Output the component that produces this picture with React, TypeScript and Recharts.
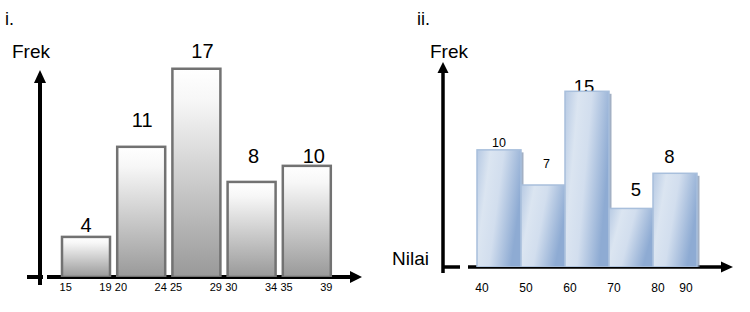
import React from 'react';
import { BarChart, Bar, XAxis, YAxis, usePlotArea } from 'recharts';

// ---------- data: chart i ----------
const leftBins = ['15-19', '20-24', '25-29', '30-34', '35-39'];
const leftLower = ['15', '20', '25', '30', '35'];
const leftUpper = ['19', '24', '29', '34', '39'];
const leftFreq = [4, 11, 17, 8, 10];
// bar heights as drawn in the picture (in frequency units)
const leftDrawnHeight = [3.37, 10.94, 17.5, 7.99, 9.34];

// ---------- data: chart ii ----------
const rightBins = ['40-50', '50-60', '60-70', '70-80', '80-90'];
const rightEdges = ['40', '50', '60', '70', '80', '90'];
const rightFreq = [10, 7, 15, 5, 8];

// ---------- styling (label offsets / sizes) ----------
const FONT = '"Liberation Sans", Arial, sans-serif';
const leftLabelStyle = [
  { dx: 0, dy: -5, size: 20 },
  { dx: 1, dy: -20, size: 20 },
  { dx: 6, dy: -11, size: 20 },
  { dx: 2, dy: -19, size: 20 },
  { dx: 7, dy: -3, size: 20 },
];
const rightLabelStyle = [
  { dx: 0, dy: -2.5, size: 12.5 },
  { dx: 3.5, dy: -17.5, size: 12.5 },
  { dx: -3, dy: 2, size: 18.5 },
  { dx: 5, dy: -12, size: 18.5 },
  { dx: -5.5, dy: -10, size: 18.5 },
];

const leftData = leftBins.map((bin, i) => ({
  bin,
  lower: leftLower[i],
  upper: leftUpper[i],
  freq: leftFreq[i],
  h: leftDrawnHeight[i],
}));

const rightData = rightBins.map((bin, i) => ({
  bin,
  lower: rightEdges[i],
  upper: rightEdges[i + 1],
  freq: rightFreq[i],
}));

const LEFT_BAR = 48;
const RIGHT_BAND = 44;

const LeftBarShape = (p: any) => {
  const { x, y, width, height, index } = p;
  const s = leftLabelStyle[index];
  return (
    <g>
      <rect x={x} y={y} width={width} height={height} fill="url(#gGray)" stroke="#727272" strokeWidth={2.5} />
      <text x={x + width / 2 + s.dx} y={y + s.dy} textAnchor="middle" fontSize={s.size} fontFamily={FONT} fill="#000">
        {p.payload.freq}
      </text>
    </g>
  );
};

const RightBarShape = (p: any) => {
  const { x, y, width, height, index } = p;
  const s = rightLabelStyle[index];
  return (
    <g>
      <text x={x + width / 2 + s.dx} y={y + s.dy} textAnchor="middle" fontSize={s.size} fontFamily={FONT} fill="#000">
        {p.payload.freq}
      </text>
      <rect x={x + 2.5} y={y + 2.5} width={width} height={height} fill="#8496b0" opacity={0.75} />
      <rect x={x} y={y} width={width} height={height} fill="url(#gBlue)" stroke="#a8bfdc" strokeWidth={1.5} />
    </g>
  );
};

const LeftTick = (p: any) => {
  const { x, y, payload } = p;
  const i = leftBins.indexOf(payload.value);
  if (i < 0) return null;
  return (
    <g fontFamily={FONT} fontSize={11} fill="#000">
      <text x={x - LEFT_BAR / 2 - 2} y={y + 14} textAnchor="start">{leftLower[i]}</text>
      <text x={x + LEFT_BAR / 2 + 2} y={y + 14} textAnchor="end">{leftUpper[i]}</text>
    </g>
  );
};

const RightTick = (p: any) => {
  const { x, y, payload } = p;
  const i = rightBins.indexOf(payload.value);
  if (i < 0) return null;
  return (
    <g fontFamily={FONT} fontSize={12} fill="#000">
      <text x={x - RIGHT_BAND / 2 + 5} y={y + 25} textAnchor="middle">{rightEdges[i]}</text>
      {i === rightBins.length - 1 && (
        <text x={x + RIGHT_BAND / 2 - 11} y={y + 25} textAnchor="middle">{rightEdges[i + 1]}</text>
      )}
    </g>
  );
};

// left plot area starts 31px above the arrow tip (domain headroom for labels)
const LEFT_HEADROOM = 31;

const LeftAxes = () => {
  const area = usePlotArea();
  if (!area) return null;
  const { x, width, height } = area;
  const y = area.y + LEFT_HEADROOM;
  const b = area.y + height;
  const r = x + width;
  return (
    <g>
      <line x1={x} y1={b + 8} x2={x} y2={y + 10} stroke="#000" strokeWidth={4} />
      <polygon points={`${x - 6},${y + 13} ${x + 6},${y + 13} ${x},${y}`} fill="#000" />
      <line x1={x - 13} y1={b} x2={x + 3} y2={b} stroke="#000" strokeWidth={4} />
      <line x1={x + 7} y1={b} x2={r - 9} y2={b} stroke="#000" strokeWidth={4} />
      <polygon points={`${r - 12},${b - 6} ${r - 12},${b + 6} ${r},${b}`} fill="#000" />
      <text x={12} y={58} fontFamily={FONT} fontSize={19} fill="#000">Frek</text>
      <text x={5} y={25} fontFamily={FONT} fontSize={18} fill="#000">i.</text>
    </g>
  );
};

const RightAxes = () => {
  const area = usePlotArea();
  if (!area) return null;
  const { x, y, width, height } = area;
  const b = y + height;
  const r = x + width;
  return (
    <g>
      <line x1={x} y1={b + 6} x2={x} y2={y + 9} stroke="#000" strokeWidth={3.5} />
      <polygon points={`${x - 5.5},${y + 11} ${x + 5.5},${y + 11} ${x},${y}`} fill="#000" />
      <line x1={x - 1} y1={b} x2={x + 17} y2={b} stroke="#000" strokeWidth={3.5} />
      <line x1={x + 25} y1={b} x2={r - 9} y2={b} stroke="#000" strokeWidth={3.5} />
      <polygon points={`${r - 12},${b - 5.5} ${r - 12},${b + 5.5} ${r},${b}`} fill="#000" />
      <text x={55} y={58} fontFamily={FONT} fontSize={19} fill="#000">Frek</text>
      <text x={17} y={265} fontFamily={FONT} fontSize={19} fill="#000">Nilai</text>
      <text x={42} y={25} fontFamily={FONT} fontSize={18} fill="#000">ii.</text>
    </g>
  );
};

export default function App() {
  return (
    <div style={{ position: 'absolute', left: 0, top: 0, width: 750, height: 312, background: '#fff' }}>
      <div style={{ position: 'absolute', left: 0, top: 0 }}>
        <BarChart width={375} height={312} data={leftData} margin={{ top: 39, right: 13, bottom: 5, left: 40 }} barSize={LEFT_BAR}>
          <defs>
            <linearGradient id="gGray" x1="0" y1="0" x2="0" y2="1">
              <stop offset="0" stopColor="#ffffff" />
              <stop offset="0.15" stopColor="#f7f7f7" />
              <stop offset="1" stopColor="#999999" />
            </linearGradient>
          </defs>
          <XAxis
            dataKey="bin"
            type="category"
            height={30}
            axisLine={false}
            tickLine={false}
            tickSize={0}
            tickMargin={0}
            interval={0}
            padding={{ left: 18, right: 28 }}
            tick={<LeftTick />}
          />
          <YAxis hide type="number" domain={[0, 20]} allowDataOverflow />
          <Bar dataKey="h" isAnimationActive={false} shape={<LeftBarShape />} />
          <LeftAxes />
        </BarChart>
      </div>
      <div style={{ position: 'absolute', left: 375, top: 0 }}>
        <BarChart width={375} height={312} data={rightData} margin={{ top: 62, right: 17, bottom: 15, left: 68 }} barCategoryGap={0} barGap={0}>
          <defs>
            <linearGradient id="gBlue" x1="0" y1="0" x2="1" y2="0.35">
              <stop offset="0" stopColor="#b6c9e3" />
              <stop offset="0.28" stopColor="#dbe5f1" />
              <stop offset="0.55" stopColor="#d2deee" />
              <stop offset="1" stopColor="#8eabd3" />
            </linearGradient>
          </defs>
          <XAxis
            dataKey="bin"
            type="category"
            height={30}
            axisLine={false}
            tickLine={false}
            tickSize={0}
            tickMargin={0}
            interval={0}
            padding={{ left: 34, right: 36 }}
            tick={<RightTick />}
          />
          <YAxis hide type="number" domain={[0, 17.5]} allowDataOverflow />
          <Bar dataKey="freq" isAnimationActive={false} shape={<RightBarShape />} />
          <RightAxes />
        </BarChart>
      </div>
    </div>
  );
}
